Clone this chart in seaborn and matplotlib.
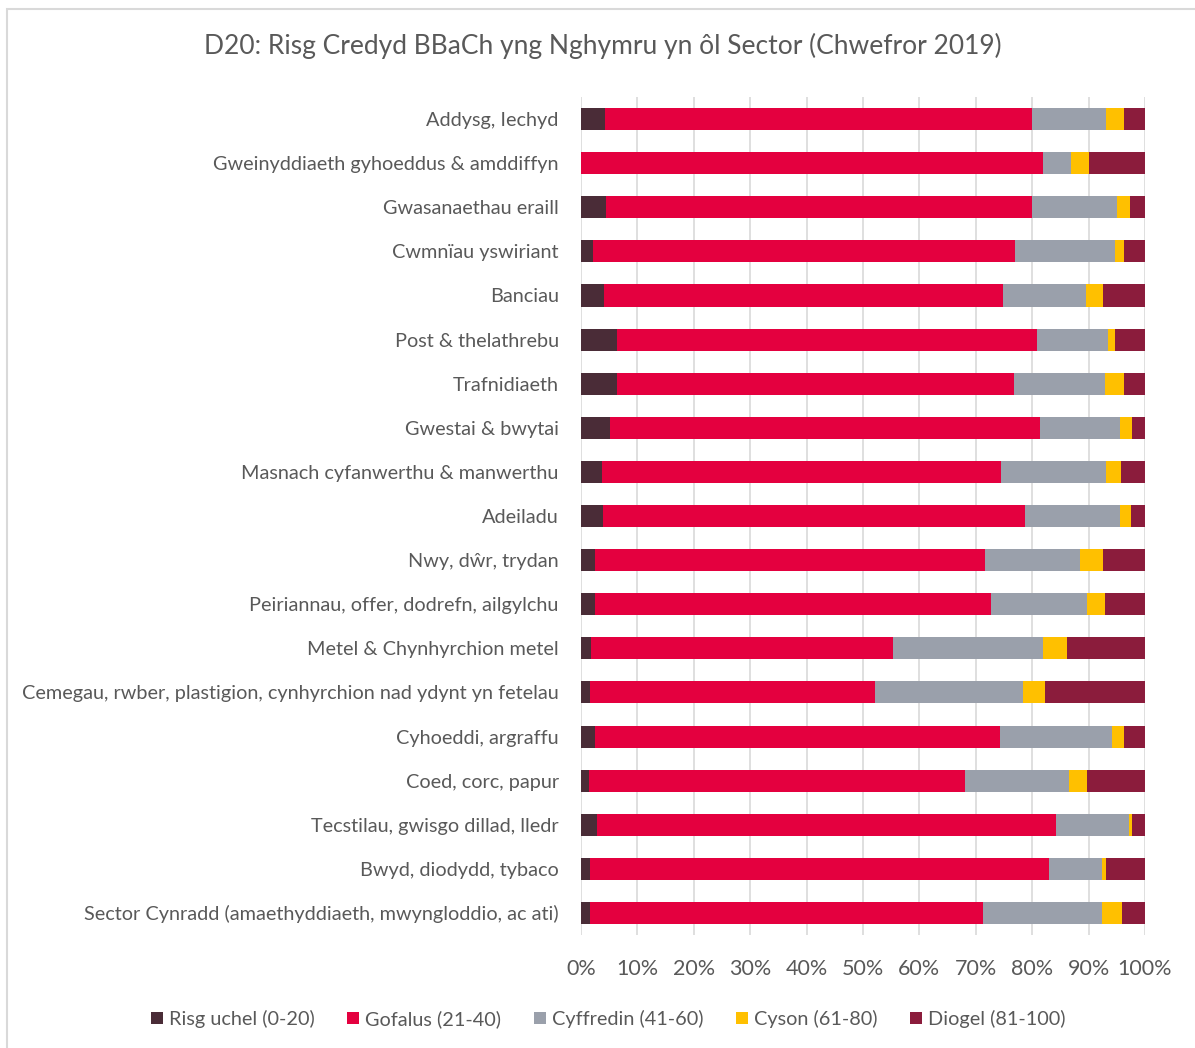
import numpy as np
import pandas as pd
import matplotlib
matplotlib.use("Agg")
import matplotlib.pyplot as plt
import seaborn as sns
from matplotlib.patches import Patch, Rectangle

# categories, top to bottom
sectors = [
    "Addysg, Iechyd",
    "Gweinyddiaeth gyhoeddus & amddiffyn",
    "Gwasanaethau eraill",
    "Cwmnïau yswiriant",
    "Banciau",
    "Post & thelathrebu",
    "Trafnidiaeth",
    "Gwestai & bwytai",
    "Masnach cyfanwerthu & manwerthu",
    "Adeiladu",
    "Nwy, dŵr, trydan",
    "Peiriannau, offer, dodrefn, ailgylchu",
    "Metel & Chynhyrchion metel",
    "Cemegau, rwber, plastigion, cynhyrchion nad ydynt yn fetelau",
    "Cyhoeddi, argraffu",
    "Coed, corc, papur",
    "Tecstilau, gwisgo dillad, lledr",
    "Bwyd, diodydd, tybaco",
    "Sector Cynradd (amaethyddiaeth, mwyngloddio, ac ati)",
]

# shares in % per risk band
risg_uchel = [4.2, 0.0, 4.4, 2.1, 4.1, 6.4, 6.4, 5.2, 3.7, 3.9, 2.4, 2.4, 1.8, 1.6, 2.4, 1.4, 2.8, 1.6, 1.6]
gofalus = [75.8, 81.9, 75.6, 74.9, 70.8, 74.4, 70.4, 76.2, 70.8, 74.8, 69.3, 70.3, 53.5, 50.5, 71.9, 66.7, 81.4, 81.4, 69.7]
cyffredin = [13.1, 5.0, 15.1, 17.7, 14.7, 12.6, 16.1, 14.2, 18.6, 16.9, 16.7, 17.1, 26.7, 26.3, 19.9, 18.5, 12.9, 9.3, 21.0]
cyson = [3.1, 3.2, 2.3, 1.6, 3.0, 1.3, 3.4, 2.1, 2.7, 2.0, 4.2, 3.1, 4.1, 3.9, 2.1, 3.1, 0.6, 0.7, 3.7]
diogel = [3.8, 9.9, 2.6, 3.7, 7.4, 5.3, 3.7, 2.3, 4.2, 2.4, 7.4, 7.1, 13.9, 17.7, 3.7, 10.3, 2.3, 7.0, 4.0]

bands = ["Risg uchel (0-20)", "Gofalus (21-40)", "Cyffredin (41-60)", "Cyson (61-80)", "Diogel (81-100)"]
colours = ["#4A2C37", "#E4003F", "#9AA0AB", "#FFC000", "#8B1C3C"]

df = pd.DataFrame({
    "Sector": sectors,
    bands[0]: risg_uchel,
    bands[1]: gofalus,
    bands[2]: cyffredin,
    bands[3]: cyson,
    bands[4]: diogel,
})
# normalise to 100 and build cumulative ends for stacking
vals = df[bands].to_numpy()
vals = vals / vals.sum(axis=1, keepdims=True) * 100
cum = np.cumsum(vals, axis=1)

sns.set_theme(style="white")
plt.rcParams["font.family"] = ["Lato", "DejaVu Sans"]
txt = "#595959"

fig = plt.figure(figsize=(11.95, 10.48), dpi=100)
ax = fig.add_axes([581 / 1195, 1 - 935 / 1048, (1145 - 581) / 1195, (935 - 97) / 1048])

# draw from the longest cumulative bar down to the shortest
for i in range(len(bands) - 1, -1, -1):
    sns.barplot(x=cum[:, i], y=df["Sector"], color=colours[i], orient="h",
                width=0.5, ax=ax, saturation=1, linewidth=0, zorder=3)

ax.set_xlim(0, 100)
ax.set_ylim(len(sectors) - 0.5, -0.5)
ax.set_xticks(np.arange(0, 101, 10))
ax.set_xticklabels([f"{v}%" for v in range(0, 101, 10)], fontsize=15.5, color=txt)
ax.tick_params(axis="y", labelsize=14.3, labelcolor=txt, length=0, pad=16)
ax.tick_params(axis="x", length=0, pad=17)
ax.set_xlabel("")
ax.set_ylabel("")
ax.grid(axis="x", color="#D9D9D9", linewidth=1.2, zorder=0)
for s in ax.spines.values():
    s.set_visible(False)

fig.text(603 / 1195, 1 - 46 / 1048, "D20: Risg Credyd BBaCh yng Nghymru yn ôl Sector (Chwefror 2019)",
         ha="center", va="center", fontsize=19, color=txt)

handles = [Patch(facecolor=c, edgecolor="none", label=b) for b, c in zip(bands, colours)]
fig.legend(handles=handles, loc="center", bbox_to_anchor=(608 / 1195, 1 - 1019 / 1048), ncol=5,
           frameon=False, fontsize=14.3, labelcolor=txt, handlelength=0.6, handleheight=0.6,
           handletextpad=0.3, columnspacing=1.65)

# chart border (left and top edges visible)
fig.patches.append(Rectangle((7 / 1195, -0.1), 1.2, 1 - 9 / 1048 + 0.1, transform=fig.transFigure,
                             fill=False, edgecolor="#D9D9D9", linewidth=1.5))

fig.savefig("out.png", dpi=100)
